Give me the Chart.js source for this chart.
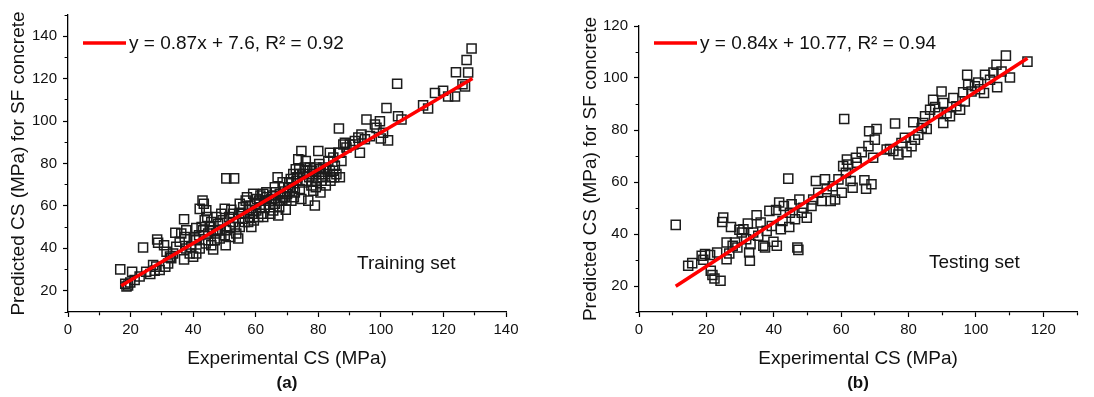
<!DOCTYPE html>
<html>
<head>
<meta charset="utf-8">
<script src="https://cdn.jsdelivr.net/npm/chart.js@4/dist/chart.umd.min.js"></script>
<style>
  body { margin: 0; background: #fff; width: 1094px; height: 397px; position: relative; overflow: hidden;
         font-family: "Liberation Sans", Arial, sans-serif; color: #111; }
  canvas { position: absolute; top: 0; }
  #chartA { left: 0; }
  #chartB { left: 547px; }
  .note { position: absolute; font-size: 19px; line-height: 22px; white-space: nowrap; }
  .tag { position: absolute; font-size: 17px; font-weight: bold; line-height: 20px; transform: translateX(-50%); }
</style>
</head>
<body>
<canvas id="chartA" width="547" height="397"></canvas>
<canvas id="chartB" width="547" height="397"></canvas>
<div class="note" style="left:357px; top:252px;">Training set</div>
<div class="note" style="left:929px; top:251px;">Testing set</div>
<div class="tag" style="left:287px; top:373px;">(a)</div>
<div class="tag" style="left:858px; top:373px;">(b)</div>

<script>
// ===== Data: training set (a) =====
const trainX = [16.7, 20.5, 18.3, 19.2, 19.9, 18.7, 24.0, 27.2, 26.3, 27.7, 28.5, 28.8, 29.3, 30.7, 31.1, 32.0,
  33.0, 33.6, 34.3, 34.6, 35.7, 37.1, 37.1, 37.3, 37.8, 38.9, 39.4, 40.0, 41.0, 41.0, 41.9, 42.1, 43.0, 43.4,
  44.0, 44.5, 44.8, 45.3, 45.8, 46.4, 47.4, 48.0, 48.5, 49.0, 50.1, 50.1, 50.4, 50.6, 53.1, 51.5, 52.2, 52.8,
  53.8, 54.4, 54.9, 55.4, 56.5, 57.2, 57.9, 58.1, 58.6, 59.2, 59.7, 60.2, 61.1, 61.8, 62.4, 62.9, 63.4, 64.3,
  65.0, 65.6, 66.1, 67.0, 67.2, 67.7, 68.2, 68.8, 69.6, 70.0, 70.7, 71.4, 72.0, 72.5, 72.8, 73.6, 74.1, 74.6,
  74.6, 75.2, 75.7, 76.2, 76.8, 77.3, 77.8, 78.4, 78.9, 79.4, 80.0, 80.3, 80.7, 81.0, 81.6, 82.4, 83.2, 83.7,
  84.2, 84.8, 85.3, 85.8, 86.4, 86.6, 86.9, 87.4, 88.0, 88.5, 91.2, 92.8, 93.3, 93.8, 94.9, 95.4, 98.6, 99.7,
  100.0, 100.7, 101.8, 102.3, 105.2, 105.5, 106.6, 113.5, 115.1, 117.3, 119.9, 121.5, 123.7, 124.0, 126.1,
  127.4, 127.9, 129.0, 126.9, 37.8, 36.2, 40.5, 42.7, 43.7, 44.2, 46.4, 47.4, 48.5, 51.7, 52.8, 53.3, 54.9,
  56.0, 57.6, 59.2, 60.8, 61.3, 62.9, 64.5, 66.1, 67.7, 68.8, 69.8, 70.9, 72.0, 73.0, 74.1, 76.2, 78.4, 79.4,
  80.5, 82.1, 83.7, 84.8, 86.9, 89.0, 90.1, 91.7, 96.5, 98.1, 31.5, 32.6, 28.2, 25.0, 22.9, 21.3,
  54.7, 55.8, 56.8, 58.3, 59.4, 60.4, 61.5, 62.4, 63.6, 64.7, 65.4, 66.4, 67.5, 68.6, 69.3, 70.4, 71.2, 72.2,
  73.3, 73.9, 75.0, 76.0, 77.1, 78.1, 79.2, 80.3, 81.3, 82.6, 83.9, 85.1, 41.0, 42.1, 43.2, 44.8, 45.8, 46.9,
  48.0, 49.4, 50.6, 51.9];
const trainY = [30.1, 29.0, 23.3, 22.5, 23.9, 22.0, 40.4, 32.2, 27.9, 29.5, 44.2, 42.6, 29.8, 41.5, 31.4, 32.9,
  35.3, 37.6, 47.4, 40.7, 43.1, 53.7, 34.8, 45.4, 39.9, 37.6, 40.7, 36.1, 49.6, 37.6, 46.2, 58.6, 62.5, 61.0,
  42.3, 54.8, 47.0, 50.1, 41.5, 39.5, 47.0, 51.6, 44.6, 56.3, 58.6, 46.2, 41.5, 73.0, 73.0, 54.8, 58.2, 52.4,
  47.0, 44.6, 61.0, 56.3, 52.4, 64.1, 58.2, 54.8, 50.1, 65.7, 61.0, 57.9, 62.5, 56.3, 65.7, 59.4, 66.4, 62.5,
  63.3, 57.9, 68.8, 73.5, 55.5, 65.7, 62.5, 68.8, 58.2, 65.7, 71.1, 62.5, 75.0, 66.4, 77.3, 82.0, 68.0, 85.9,
  63.3, 75.0, 78.1, 71.9, 62.5, 78.1, 69.6, 67.2, 60.2, 71.9, 85.9, 75.0, 66.4, 71.9, 78.1, 69.6, 81.2, 85.1,
  73.5, 76.6, 78.9, 75.0, 85.1, 96.5, 73.5, 81.2, 89.0, 89.8, 89.0, 92.2, 85.1, 93.7, 91.4, 100.7, 96.8, 99.9,
  91.8, 94.5, 106.2, 90.9, 117.6, 102.3, 100.7, 107.4, 105.9, 113.2, 114.3, 111.6, 111.6, 123.0, 117.4,
  128.8, 122.9, 134.2, 116.3, 48.5, 47.0, 44.6, 50.1, 53.2, 57.9, 48.5, 54.8, 48.5, 50.1, 56.3, 50.1, 50.1,
  59.4, 52.4, 56.3, 54.8, 59.4, 62.5, 59.4, 61.0, 62.5, 64.1, 62.5, 67.2, 68.8, 71.9, 75.0, 76.6, 75.0, 78.1,
  77.3, 75.0, 76.6, 82.8, 85.1, 87.5, 89.0, 90.6, 92.9, 98.4, 38.4, 36.1, 31.4, 29.0, 26.7, 25.1,
  56.3, 54.0, 62.5, 60.2, 53.2, 63.3, 64.9, 54.8, 64.1, 56.3, 64.9, 66.4, 59.4, 71.1, 64.1, 68.8, 72.7, 64.1,
  73.5, 77.3, 71.1, 81.2, 73.5, 76.6, 68.8, 79.7, 73.5, 77.3, 71.9, 73.5, 43.8, 39.9, 48.5, 43.8, 52.4, 43.8,
  48.5, 53.2, 48.5, 45.4];

// ===== Data: testing set (b) =====
const testX = [10.9, 14.6, 15.8, 18.6, 19.1, 19.6, 21.1, 21.3, 21.8, 22.4, 24.2, 23.2, 24.7, 25.0, 26.0, 26.0,
  26.8, 27.3, 27.8, 28.5, 29.2, 29.8, 30.5, 31.0, 31.8, 32.3, 32.7, 32.9, 33.1, 33.9, 34.9, 35.4, 36.1, 36.9,
  37.4, 37.9, 38.7, 39.4, 39.9, 40.7, 40.9, 41.6, 42.1, 42.6, 43.0, 44.3, 44.6, 44.8, 45.3, 46.3, 47.0, 47.3,
  47.6, 48.3, 48.8, 49.8, 51.2, 51.7, 52.5, 53.2, 54.2, 55.2, 55.7, 56.9, 57.5, 58.2, 59.2, 60.2, 60.6, 60.9,
  61.4, 62.1, 62.8, 63.4, 64.4, 66.1, 66.9, 67.4, 68.1, 68.3, 69.0, 69.5, 70.0, 70.5, 74.5, 75.5, 76.0, 77.0,
  77.9, 78.9, 79.4, 80.9, 81.4, 81.9, 82.9, 83.9, 84.9, 85.4, 86.4, 87.3, 88.8, 89.8, 90.3, 90.3, 91.3, 92.3,
  93.3, 94.2, 95.3, 96.2, 96.7, 97.4, 97.7, 98.7, 99.7, 100.7, 101.2, 102.4, 102.7, 104.2, 105.2, 106.1,
  106.3, 107.6, 108.9, 110.1, 115.3, 84.4, 87.9, 73.5, 64.6, 61.7];
const testY = [43.5, 27.8, 28.8, 31.6, 30.1, 32.3, 31.9, 25.9, 24.2, 22.9, 22.0, 32.9, 44.6, 46.3, 36.7, 30.3,
  32.5, 42.7, 35.5, 36.7, 34.8, 41.6, 40.6, 41.8, 38.0, 44.0, 32.9, 29.7, 36.1, 40.6, 47.2, 39.3, 44.4, 35.5,
  34.8, 41.2, 48.9, 43.1, 37.0, 49.2, 35.5, 52.1, 41.8, 45.0, 50.8, 61.3, 42.7, 48.2, 51.4, 45.7, 34.8, 33.9,
  53.3, 48.2, 50.1, 46.3, 50.8, 53.3, 60.4, 55.9, 52.7, 61.0, 57.2, 52.7, 58.4, 53.3, 61.0, 55.9, 66.1, 84.2,
  63.5, 66.7, 60.4, 57.8, 69.3, 71.5, 60.7, 57.4, 73.8, 79.5, 59.1, 69.3, 76.3, 80.4, 72.7, 71.9, 82.5, 70.6,
  75.0, 77.0, 71.5, 73.8, 83.0, 76.3, 78.2, 80.8, 85.3, 80.4, 87.8, 91.6, 86.5, 94.8, 90.4, 82.7, 86.5, 85.3,
  92.3, 89.1, 87.8, 94.5, 91.0, 101.2, 97.4, 94.8, 96.8, 98.3, 95.7, 94.2, 101.2, 99.3, 102.1, 105.1,
  96.5, 102.5, 108.6, 100.2, 106.3, 82.7, 88.8, 72.5, 67.4, 68.6];

// ===== Linear fits (from the equations in the legends) =====
const fitLabels = ['y = 0.87x + 7.6, R² = 0.92', 'y = 0.84x + 10.77, R² = 0.94'];
const fitSlope = [0.87, 0.84];
const fitIntercept = [7.6, 10.77];
const fitRange = [[17.0, 129.3], [10.9, 115.3]];

// ===== Axis ranges (major ticks every 20, minor every 10) =====
const xRangeA = [0, 140];
const yRangeA = [10, 150];
const xRangeB = [0, 130];
const yRangeB = [10, 120];

const FONT = '"Liberation Sans", Arial, sans-serif';
const INK = '#111';

function toPoints(xs, ys) {
  return xs.map((x, i) => ({ x: x, y: ys[i] }));
}

function fitPoints(k) {
  return fitRange[k].map(x => ({ x: x, y: fitSlope[k] * x + fitIntercept[k] }));
}

// ===== Legend of the fitted line (drawn inside the plot area) =====
const fitLegend = {
  id: 'fitLegend',
  afterDatasetsDraw(chart, args, opts) {
    const { ctx, chartArea } = chart;
    const ds = chart.data.datasets[0];
    const x = chartArea.left + 15;
    const y = opts.y;
    ctx.save();
    ctx.strokeStyle = ds.borderColor;
    ctx.lineWidth = ds.borderWidth;
    ctx.beginPath();
    ctx.moveTo(x, y);
    ctx.lineTo(x + 43, y);
    ctx.stroke();
    ctx.fillStyle = INK;
    ctx.font = '19px ' + FONT;
    ctx.textBaseline = 'middle';
    ctx.fillText(ds.label, x + 46, y + 1);
    ctx.restore();
  }
};

const isMinor = c => c.tick && Math.round(c.tick.value) % 20 !== 0;

function axis(range, title, opts) {
  return {
    type: 'linear',
    min: range[0],
    max: range[1],
    border: { display: true, color: '#000', width: 1.3 },
    grid: {
      drawOnChartArea: false,
      drawTicks: true,
      tickLength: 5,
      tickColor: '#000',
      tickWidth: 1.2,
      tickBorderDash: c => isMinor(c) ? opts.minorDash : []
    },
    ticks: {
      stepSize: 10,
      autoSkip: false,
      maxRotation: 0,
      padding: opts.tickPad,
      color: INK,
      font: { family: FONT, size: 15 },
      callback: v => Math.round(v) % 20 === 0 ? v : ''
    },
    title: {
      display: true,
      text: title,
      color: INK,
      font: { family: FONT, size: 19 },
      padding: opts.titlePad
    },
    afterFit: opts.fit
  };
}

function makeChart(id, k, xs, ys, xRange, yRange, pad, yWidth, legendY) {
  return new Chart(document.getElementById(id), {
    type: 'scatter',
    data: {
      datasets: [{
        label: fitLabels[k],
        data: fitPoints(k),
        showLine: true,
        borderColor: '#ff0000',
        backgroundColor: '#ff0000',
        borderWidth: 3.5,
        pointRadius: 0,
        order: 0
      }, {
        label: 'data',
        data: toPoints(xs, ys),
        pointStyle: 'rect',
        pointRadius: 6.4,
        pointBorderWidth: 1.5,
        pointBorderColor: '#1c1c1c',
        pointBackgroundColor: 'rgba(0,0,0,0)',
        order: 1
      }]
    },
    options: {
      responsive: false,
      animation: false,
      events: [],
      layout: { padding: pad },
      plugins: {
        legend: { display: false },
        tooltip: { enabled: false },
        fitLegend: { y: legendY }
      },
      scales: {
        x: axis(xRange, 'Experimental CS (MPa)', {
          minorDash: [3, 20],
          tickPad: 4,
          titlePad: { top: 0, bottom: 27 },
          fit: s => { s.height = 85; }
        }),
        y: axis(yRange, 'Predicted CS (MPa) for SF concrete', {
          minorDash: [0, 1.6, 3, 20],
          tickPad: 6,
          titlePad: { top: 0, bottom: 0 },
          fit: s => { s.width = yWidth; }
        })
      }
    },
    plugins: [fitLegend]
  });
}

// ===== Charts =====
makeChart('chartA', 0, trainX, trainY, xRangeA, yRangeA, { left: 7, right: 41, top: 13, bottom: 0 }, 61, 43);
makeChart('chartB', 1, testX, testY, xRangeB, yRangeB, { left: 32, right: 17, top: 26, bottom: 0 }, 60, 43);
</script>
</body>
</html>
